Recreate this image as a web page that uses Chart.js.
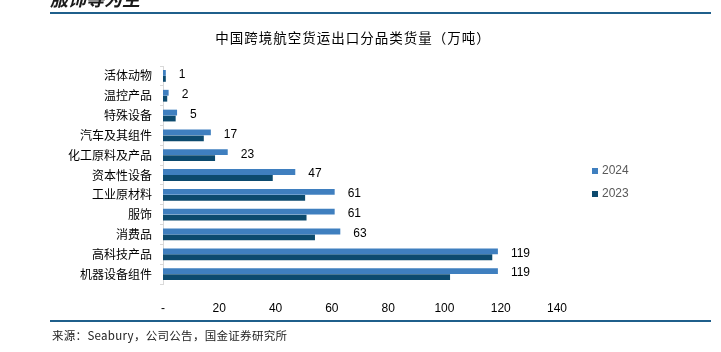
<!DOCTYPE html>
<html>
<head>
<meta charset="utf-8">
<script src="https://cdn.jsdelivr.net/npm/chart.js@4.4.1/dist/chart.umd.min.js"></script>
<style>
  html, body { margin: 0; padding: 0; background: #fff; }
  #wrap { width: 721px; height: 352px; }
</style>
</head>
<body>
<div id="wrap"><canvas id="c" width="721" height="352"></canvas></div>
<script>
// 分品类，自上而下
const categories = ["活体动物", "温控产品", "特殊设备", "汽车及其组件", "化工原料及产品", "资本性设备", "工业原材料", "服饰", "消费品", "高科技产品", "机器设备组件"];
const values2024 = [1, 2, 5, 17, 23, 47, 61, 61, 63, 119, 119];
const values2023 = [1, 1.5, 4.5, 14.5, 18.5, 39, 50.5, 51, 54, 117, 102];
const seriesNames = ["2024", "2023"];
const seriesColors = ["#3f7fbf", "#0c4a6e"];
const xTicks = [0, 20, 40, 60, 80, 100, 120, 140];

const titleText = "中国跨境航空货运出口分品类货量（万吨）";
const sourceText = "来源：Seabury，公司公告，国金证券研究所";
const headText = "服饰等为主";

const cjk = '"Noto Sans CJK SC", "Noto Sans", sans-serif';
const latin = '"Liberation Sans", Arial, sans-serif';

// 标题、页眉页脚线、图例、数据标签
const decor = {
  id: "decor",
  afterDraw(chart) {
    const ctx = chart.ctx;
    ctx.save();

    // 页眉残字 + 线
    ctx.fillStyle = "#1a1a1a";
    ctx.font = "italic bold 18px " + cjk;
    ctx.textBaseline = "alphabetic";
    ctx.textAlign = "left";
    ctx.fillText(headText, 50, 6);

    ctx.strokeStyle = "#1f5f8b";
    ctx.lineWidth = 2;
    ctx.beginPath(); ctx.moveTo(50, 13); ctx.lineTo(711, 13); ctx.stroke();
    ctx.beginPath(); ctx.moveTo(50, 321); ctx.lineTo(711, 321); ctx.stroke();

    // 标题
    ctx.fillStyle = "#000";
    ctx.font = "13.5px " + cjk;
    ctx.letterSpacing = "1px";
    ctx.textAlign = "center";
    ctx.textBaseline = "middle";
    ctx.fillText(titleText, 353, 38);

    // 来源
    ctx.font = "11.5px " + cjk;
    ctx.letterSpacing = "0.3px";
    ctx.textAlign = "left";
    ctx.fillStyle = "#222";
    ctx.fillText(sourceText, 52, 336);
    ctx.letterSpacing = "0px";

    // 图例
    ctx.font = "12px " + latin;
    seriesNames.forEach((name, i) => {
      const y = 171 + i * 23;
      ctx.fillStyle = seriesColors[i];
      ctx.fillRect(592, y - 3, 6, 6);
      ctx.fillStyle = "#595959";
      ctx.fillText(name, 602, y);
    });

    // 2024 数据标签
    const meta = chart.getDatasetMeta(0);
    ctx.fillStyle = "#000";
    ctx.font = "12px " + latin;
    meta.data.forEach((bar, i) => {
      ctx.fillText(String(values2024[i]), bar.x + 13, bar.y + 2);
    });

    ctx.restore();
  }
};

new Chart(document.getElementById("c"), {
  type: "bar",
  data: {
    labels: categories,
    datasets: [
      { label: seriesNames[0], data: values2024, backgroundColor: seriesColors[0], categoryPercentage: 0.6, barPercentage: 0.98 },
      { label: seriesNames[1], data: values2023, backgroundColor: seriesColors[1], categoryPercentage: 0.6, barPercentage: 0.98 }
    ]
  },
  options: {
    indexAxis: "y",
    responsive: false,
    animation: false,
    layout: { padding: { top: 66, right: 164, bottom: 38, left: 0 } },
    plugins: {
      legend: { display: false },
      tooltip: { enabled: false },
      title: { display: false }
    },
    scales: {
      x: {
        min: 0,
        max: 140,
        afterBuildTicks(scale) { scale.ticks = xTicks.map(v => ({ value: v })); },
        afterFit(scale) { scale.height = 30; },
        grid: { display: false },
        border: { display: false },
        ticks: {
          padding: 9,
          color: "#000",
          font: { family: latin, size: 12 },
          callback: v => (v === 0 ? "-" : v)
        }
      },
      y: {
        afterFit(scale) { scale.width = 163; },
        grid: { drawOnChartArea: false, drawTicks: true, tickLength: 3, color: "#d9d9d9" },
        border: { display: true, color: "#d9d9d9" },
        ticks: {
          padding: 8,
          color: "#000",
          font: { family: cjk, size: 12 }
        }
      }
    }
  },
  plugins: [decor]
});
</script>
</body>
</html>
